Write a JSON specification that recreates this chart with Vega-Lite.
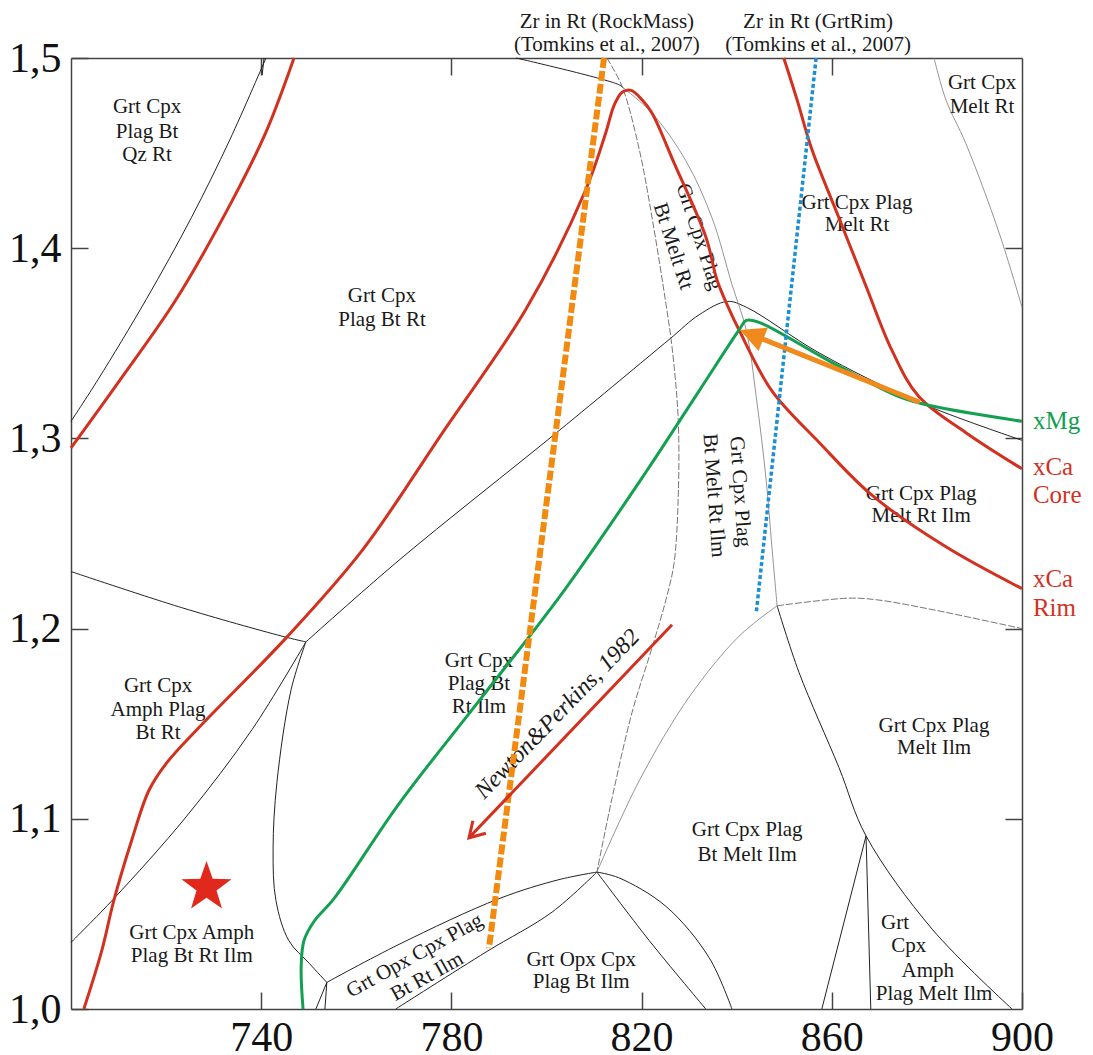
{
"$schema": "https://vega.github.io/schema/vega-lite/v6.json",
"width": 951, "height": 951,
"autosize": {"type": "pad"},
"padding": {"left": 8, "top": 10, "right": 0, "bottom": 0},
"background": "white",
"config": {"view": {"stroke": null}, "font": "Liberation Serif"},
"datasets": {
"curves": [
{"s":"rA","k":"red","o":1,"T":702.7,"P":1.0},
{"s":"rA","k":"red","o":2,"T":706.5,"P":1.031},
{"s":"rA","k":"red","o":3,"T":709.0,"P":1.057},
{"s":"rA","k":"red","o":4,"T":712.8,"P":1.089},
{"s":"rA","k":"red","o":5,"T":716.4,"P":1.115},
{"s":"rA","k":"red","o":6,"T":720.0,"P":1.129},
{"s":"rA","k":"red","o":7,"T":726.9,"P":1.148},
{"s":"rA","k":"red","o":8,"T":745.2,"P":1.195},
{"s":"rA","k":"red","o":9,"T":761.2,"P":1.241},
{"s":"rA","k":"red","o":10,"T":778.4,"P":1.304},
{"s":"rA","k":"red","o":11,"T":795.7,"P":1.368},
{"s":"rA","k":"red","o":12,"T":808.3,"P":1.431},
{"s":"rA","k":"red","o":13,"T":812.5,"P":1.461},
{"s":"rA","k":"red","o":14,"T":814.2,"P":1.475},
{"s":"rA","k":"red","o":15,"T":815.9,"P":1.482},
{"s":"rA","k":"red","o":16,"T":817.8,"P":1.483},
{"s":"rA","k":"red","o":17,"T":820.1,"P":1.478},
{"s":"rA","k":"red","o":18,"T":822.2,"P":1.471},
{"s":"rA","k":"red","o":19,"T":826.8,"P":1.445},
{"s":"rA","k":"red","o":20,"T":833.5,"P":1.406},
{"s":"rA","k":"red","o":21,"T":835.9,"P":1.383},
{"s":"rA","k":"red","o":22,"T":838.4,"P":1.368},
{"s":"rA","k":"red","o":23,"T":840.5,"P":1.357},
{"s":"rA","k":"red","o":24,"T":847.4,"P":1.325},
{"s":"rA","k":"red","o":25,"T":857.3,"P":1.298},
{"s":"rA","k":"red","o":26,"T":868.5,"P":1.270},
{"s":"rA","k":"red","o":27,"T":884.0,"P":1.243},
{"s":"rA","k":"red","o":28,"T":900.0,"P":1.221},
{"s":"rB","k":"red","o":1,"T":849.9,"P":1.5},
{"s":"rB","k":"red","o":2,"T":852.7,"P":1.478},
{"s":"rB","k":"red","o":3,"T":855.8,"P":1.452},
{"s":"rB","k":"red","o":4,"T":861.5,"P":1.416},
{"s":"rB","k":"red","o":5,"T":867.2,"P":1.380},
{"s":"rB","k":"red","o":6,"T":872.7,"P":1.346},
{"s":"rB","k":"red","o":7,"T":878.3,"P":1.322},
{"s":"rB","k":"red","o":8,"T":888.2,"P":1.303},
{"s":"rB","k":"red","o":9,"T":900.0,"P":1.284},
{"s":"rC","k":"red","o":1,"T":700.0,"P":1.295},
{"s":"rC","k":"red","o":2,"T":710.1,"P":1.330},
{"s":"rC","k":"red","o":3,"T":722.1,"P":1.373},
{"s":"rC","k":"red","o":4,"T":733.9,"P":1.425},
{"s":"rC","k":"red","o":5,"T":741.0,"P":1.461},
{"s":"rC","k":"red","o":6,"T":746.9,"P":1.5},
{"s":"gr","k":"grn","o":1,"T":748.8,"P":1.0},
{"s":"gr","k":"grn","o":2,"T":748.4,"P":1.022},
{"s":"gr","k":"grn","o":3,"T":749.0,"P":1.036},
{"s":"gr","k":"grn","o":4,"T":751.1,"P":1.046},
{"s":"gr","k":"grn","o":5,"T":755.3,"P":1.058},
{"s":"gr","k":"grn","o":6,"T":769.0,"P":1.108},
{"s":"gr","k":"grn","o":7,"T":785.8,"P":1.162},
{"s":"gr","k":"grn","o":8,"T":803.7,"P":1.220},
{"s":"gr","k":"grn","o":9,"T":821.1,"P":1.283},
{"s":"gr","k":"grn","o":10,"T":832.1,"P":1.325},
{"s":"gr","k":"grn","o":11,"T":840.5,"P":1.357},
{"s":"gr","k":"grn","o":12,"T":842.0,"P":1.362},
{"s":"gr","k":"grn","o":13,"T":844.7,"P":1.361},
{"s":"gr","k":"grn","o":14,"T":860.0,"P":1.340},
{"s":"gr","k":"grn","o":15,"T":874.1,"P":1.322},
{"s":"gr","k":"grn","o":16,"T":881.1,"P":1.317},
{"s":"gr","k":"grn","o":17,"T":900.0,"P":1.309},
{"s":"oz","k":"org","o":1,"T":812.1,"P":1.5},
{"s":"oz","k":"org","o":2,"T":787.9,"P":1.032},
{"s":"bz","k":"blu","o":1,"T":856.7,"P":1.5},
{"s":"bz","k":"blu","o":2,"T":844.1,"P":1.208},
{"s":"oa","k":"oar","o":1,"T":878.5,"P":1.319},
{"s":"oa","k":"oar","o":2,"T":844.7,"P":1.353},
{"s":"ra","k":"rar","o":1,"T":826.4,"P":1.202},
{"s":"ra","k":"rar","o":2,"T":783.7,"P":1.090},
{"s":"L1","k":"b","o":1,"T":700.0,"P":1.309},
{"s":"L1","k":"b","o":2,"T":705.7,"P":1.331},
{"s":"L1","k":"b","o":3,"T":715.8,"P":1.373},
{"s":"L1","k":"b","o":4,"T":725.3,"P":1.416},
{"s":"L1","k":"b","o":5,"T":733.4,"P":1.457},
{"s":"L1","k":"b","o":6,"T":741.0,"P":1.5},
{"s":"L1t","k":"b","o":1,"T":740.6,"P":1.5},
{"s":"L1t","k":"b","o":2,"T":740.2,"P":1.491},
{"s":"L2","k":"b","o":1,"T":793.6,"P":1.5},
{"s":"L2","k":"b","o":2,"T":815.2,"P":1.486},
{"s":"L2","k":"b","o":3,"T":816.3,"P":1.484},
{"s":"L4","k":"b","o":1,"T":700.0,"P":1.230},
{"s":"L4","k":"b","o":2,"T":723.3,"P":1.211},
{"s":"L4","k":"b","o":3,"T":744.4,"P":1.196},
{"s":"L4","k":"b","o":4,"T":749.4,"P":1.193},
{"s":"L5","k":"b","o":1,"T":749.4,"P":1.193},
{"s":"L5","k":"b","o":2,"T":769.0,"P":1.236},
{"s":"L5","k":"b","o":3,"T":802.6,"P":1.304},
{"s":"L5","k":"b","o":4,"T":825.8,"P":1.352},
{"s":"L5","k":"b","o":5,"T":832.1,"P":1.365},
{"s":"L5","k":"b","o":6,"T":838.0,"P":1.372},
{"s":"L5","k":"b","o":7,"T":842.0,"P":1.369},
{"s":"L5","k":"b","o":8,"T":857.3,"P":1.345},
{"s":"L5","k":"b","o":9,"T":878.3,"P":1.319},
{"s":"L5","k":"b","o":10,"T":900.0,"P":1.299},
{"s":"L6","k":"b","o":1,"T":749.4,"P":1.193},
{"s":"L6","k":"b","o":2,"T":738.1,"P":1.147},
{"s":"L6","k":"b","o":3,"T":724.2,"P":1.101},
{"s":"L6","k":"b","o":4,"T":709.0,"P":1.058},
{"s":"L6","k":"b","o":5,"T":700.0,"P":1.035},
{"s":"L7","k":"b","o":1,"T":749.4,"P":1.193},
{"s":"L7","k":"b","o":2,"T":746.3,"P":1.168},
{"s":"L7","k":"b","o":3,"T":743.3,"P":1.119},
{"s":"L7","k":"b","o":4,"T":742.5,"P":1.084},
{"s":"L7","k":"b","o":5,"T":743.1,"P":1.057},
{"s":"L7","k":"b","o":6,"T":745.8,"P":1.036},
{"s":"L7","k":"b","o":7,"T":750.1,"P":1.024},
{"s":"L7","k":"b","o":8,"T":753.8,"P":1.014},
{"s":"J23","k":"b","o":1,"T":753.8,"P":1.014},
{"s":"J23","k":"b","o":2,"T":769.0,"P":1.034},
{"s":"J23","k":"b","o":3,"T":790.0,"P":1.058},
{"s":"J23","k":"b","o":4,"T":802.6,"P":1.068},
{"s":"J23","k":"b","o":5,"T":810.6,"P":1.072},
{"s":"J2a","k":"b","o":1,"T":753.8,"P":1.014},
{"s":"J2a","k":"b","o":2,"T":751.5,"P":1.0},
{"s":"J2b","k":"b","o":1,"T":753.8,"P":1.014},
{"s":"J2b","k":"b","o":2,"T":753.4,"P":1.0},
{"s":"Low","k":"b","o":1,"T":768.3,"P":1.0},
{"s":"Low","k":"b","o":2,"T":787.3,"P":1.030},
{"s":"Low","k":"b","o":3,"T":801.2,"P":1.051},
{"s":"Low","k":"b","o":4,"T":810.6,"P":1.072},
{"s":"J3R","k":"b","o":1,"T":810.6,"P":1.072},
{"s":"J3R","k":"b","o":2,"T":815.2,"P":1.069},
{"s":"J3R","k":"b","o":3,"T":825.1,"P":1.054},
{"s":"J3R","k":"b","o":4,"T":834.2,"P":1.027},
{"s":"J3R","k":"b","o":5,"T":839.0,"P":1.0},
{"s":"J3D","k":"b","o":1,"T":810.6,"P":1.072},
{"s":"J3D","k":"b","o":2,"T":821.6,"P":1.036},
{"s":"J3D","k":"b","o":3,"T":833.5,"P":1.0},
{"s":"J45","k":"b","o":1,"T":848.5,"P":1.212},
{"s":"J45","k":"b","o":2,"T":853.1,"P":1.177},
{"s":"J45","k":"b","o":3,"T":861.5,"P":1.127},
{"s":"J45","k":"b","o":4,"T":867.2,"P":1.091},
{"s":"J45","k":"b","o":5,"T":881.1,"P":1.042},
{"s":"J45","k":"b","o":6,"T":897.9,"P":1.0},
{"s":"J5a","k":"b","o":1,"T":867.2,"P":1.091},
{"s":"J5a","k":"b","o":2,"T":857.9,"P":1.0},
{"s":"J5b","k":"b","o":1,"T":867.2,"P":1.091},
{"s":"J5b","k":"b","o":2,"T":868.2,"P":1.0},
{"s":"G1","k":"g","o":1,"T":816.3,"P":1.484},
{"s":"G1","k":"g","o":2,"T":822.2,"P":1.471},
{"s":"G1","k":"g","o":3,"T":829.3,"P":1.446},
{"s":"G1","k":"g","o":4,"T":834.8,"P":1.416},
{"s":"G1","k":"g","o":5,"T":839.0,"P":1.381},
{"s":"G1","k":"g","o":6,"T":842.0,"P":1.357},
{"s":"G1","k":"g","o":7,"T":844.1,"P":1.322},
{"s":"G1","k":"g","o":8,"T":846.2,"P":1.278},
{"s":"G1","k":"g","o":9,"T":847.4,"P":1.243},
{"s":"G1","k":"g","o":10,"T":848.5,"P":1.212},
{"s":"J34","k":"g","o":1,"T":810.6,"P":1.072},
{"s":"J34","k":"g","o":2,"T":819.5,"P":1.120},
{"s":"J34","k":"g","o":3,"T":830.0,"P":1.164},
{"s":"J34","k":"g","o":4,"T":840.5,"P":1.196},
{"s":"J34","k":"g","o":5,"T":848.5,"P":1.212},
{"s":"TR","k":"g","o":1,"T":881.5,"P":1.5},
{"s":"TR","k":"g","o":2,"T":884.0,"P":1.478},
{"s":"TR","k":"g","o":3,"T":888.2,"P":1.455},
{"s":"TR","k":"g","o":4,"T":895.2,"P":1.408},
{"s":"TR","k":"g","o":5,"T":900.0,"P":1.369},
{"s":"D1","k":"d","o":1,"T":812.7,"P":1.5},
{"s":"D1","k":"d","o":2,"T":815.9,"P":1.485},
{"s":"D1","k":"d","o":3,"T":819.5,"P":1.452},
{"s":"D1","k":"d","o":4,"T":822.2,"P":1.416},
{"s":"D1","k":"d","o":5,"T":825.1,"P":1.371},
{"s":"D1","k":"d","o":6,"T":826.4,"P":1.348},
{"s":"D1","k":"d","o":7,"T":827.7,"P":1.310},
{"s":"D1","k":"d","o":8,"T":827.7,"P":1.269},
{"s":"D1","k":"d","o":9,"T":826.8,"P":1.234},
{"s":"D1","k":"d","o":10,"T":825.1,"P":1.215},
{"s":"D1","k":"d","o":11,"T":822.2,"P":1.190},
{"s":"D1","k":"d","o":12,"T":818.0,"P":1.156},
{"s":"D1","k":"d","o":13,"T":813.8,"P":1.111},
{"s":"D1","k":"d","o":14,"T":810.6,"P":1.072},
{"s":"J4R","k":"d","o":1,"T":848.5,"P":1.212},
{"s":"J4R","k":"d","o":2,"T":863.6,"P":1.216},
{"s":"J4R","k":"d","o":3,"T":869.9,"P":1.215},
{"s":"J4R","k":"d","o":4,"T":881.1,"P":1.210},
{"s":"J4R","k":"d","o":5,"T":900.0,"P":1.200}
],
"pts": [
{"k":"star","T":728.5,"P":1.064},
{"k":"oh","T":840.7,"P":1.357},
{"k":"rh","T":783.7,"P":1.090}
],
"labels": [
{"k":"n","t":"Grt Cpx","T":716.0,"P":1.474},
{"k":"n","t":"Plag Bt","T":716.0,"P":1.461},
{"k":"n","t":"Qz Rt","T":716.0,"P":1.449},
{"k":"n","t":"Grt Cpx","T":765.4,"P":1.375},
{"k":"n","t":"Plag Bt Rt","T":765.4,"P":1.362},
{"k":"n","t":"Grt Cpx","T":891.6,"P":1.487},
{"k":"n","t":"Melt Rt","T":891.6,"P":1.474},
{"k":"n","t":"Grt Cpx Plag","T":865.3,"P":1.424},
{"k":"n","t":"Melt Rt","T":865.3,"P":1.412},
{"k":"n","t":"Grt Cpx Plag","T":878.8,"P":1.271},
{"k":"n","t":"Melt Rt Ilm","T":878.8,"P":1.259},
{"k":"n","t":"Grt Cpx Plag","T":881.5,"P":1.149},
{"k":"n","t":"Melt Ilm","T":881.5,"P":1.137},
{"k":"n","t":"Grt Cpx Plag","T":842.2,"P":1.094},
{"k":"n","t":"Bt Melt Ilm","T":842.2,"P":1.081},
{"k":"n","t":"Grt","T":873.3,"P":1.045},
{"k":"n","t":"Cpx","T":876.2,"P":1.033},
{"k":"n","t":"Amph","T":880.2,"P":1.020},
{"k":"n","t":"Plag Melt Ilm","T":881.5,"P":1.008},
{"k":"n","t":"Grt Cpx","T":718.3,"P":1.170},
{"k":"n","t":"Amph Plag","T":718.3,"P":1.157},
{"k":"n","t":"Bt Rt","T":718.3,"P":1.145},
{"k":"n","t":"Grt Cpx Amph","T":725.4,"P":1.040},
{"k":"n","t":"Plag Bt Rt Ilm","T":725.4,"P":1.028},
{"k":"n","t":"Grt Cpx","T":785.8,"P":1.183},
{"k":"n","t":"Plag Bt","T":785.8,"P":1.171},
{"k":"n","t":"Rt Ilm","T":785.8,"P":1.159},
{"k":"n","t":"Grt Opx Cpx","T":807.3,"P":1.026},
{"k":"n","t":"Plag Bt Ilm","T":807.3,"P":1.014},
{"k":"r72","t":"Grt Cpx Plag","T":832.1,"P":1.406},
{"k":"r72","t":"Bt Melt Rt","T":826.6,"P":1.401},
{"k":"r86","t":"Grt Cpx Plag","T":840.7,"P":1.272},
{"k":"r86","t":"Bt Melt Rt Ilm","T":835.2,"P":1.270},
{"k":"rm29","t":"Grt Opx Cpx Plag","T":772.3,"P":1.028},
{"k":"rm29","t":"Bt Rt Ilm","T":774.9,"P":1.017},
{"k":"np","t":"Newton&Perkins, 1982","T":802.3,"P":1.155},
{"k":"top","t":"Zr in Rt (RockMass)","T":812.7,"P":1.519},
{"k":"top","t":"(Tomkins et al., 2007)","T":812.7,"P":1.507},
{"k":"top","t":"Zr in Rt (GrtRim)","T":857.1,"P":1.519},
{"k":"top","t":"(Tomkins et al., 2007)","T":857.1,"P":1.507},
{"k":"mg","t":"xMg","T":902.3,"P":1.309},
{"k":"ca","t":"xCa","T":902.3,"P":1.285},
{"k":"ca","t":"Core","T":902.3,"P":1.270},
{"k":"ca","t":"xCa","T":902.3,"P":1.226},
{"k":"ca","t":"Rim","T":902.3,"P":1.211}
]
},
"encoding": {
"x": {"field": "T", "type": "quantitative", "scale": {"domain": [700, 900], "nice": false, "zero": false}, "axis": null},
"y": {"field": "P", "type": "quantitative", "scale": {"domain": [1.0, 1.5], "nice": false, "zero": false}, "axis": null}
},
"layer": [
{"data": {"name": "curves"}, "transform": [{"filter": "datum.k==='b'"}],
 "mark": {"type": "line", "color": "#222222", "strokeWidth": 1, "interpolate": "catmull-rom"},
 "encoding": {
  "x": {"field": "T", "type": "quantitative", "scale": {"domain": [700, 900], "nice": false, "zero": false},
        "axis": {"orient": "bottom", "values": [740, 780, 820, 860, 900], "tickSize": -17, "tickWidth": 1.5, "tickColor": "#444444", "domainColor": "#444444", "domainWidth": 1.5, "labelFont": "Liberation Serif", "labelFontSize": 42, "labelColor": "#111111", "labelPadding": 25, "labelFlush": false, "labelOverlap": false, "grid": false, "title": null}},
  "y": {"field": "P", "type": "quantitative", "scale": {"domain": [1.0, 1.5], "nice": false, "zero": false},
        "axis": {"orient": "left", "values": [1.0, 1.1, 1.2, 1.3, 1.4, 1.5], "labelExpr": "replace(format(datum.value, '.1f'), '.', ',')", "tickSize": -17, "tickWidth": 1.5, "tickColor": "#444444", "domainColor": "#444444", "domainWidth": 1.5, "labelFont": "Liberation Serif", "labelFontSize": 42, "labelColor": "#111111", "labelPadding": 27, "labelFlush": false, "labelOverlap": false, "grid": false, "title": null}},
  "detail": {"field": "s", "type": "nominal"}, "order": {"field": "o", "type": "quantitative"}}},
{"data": {"name": "curves"}, "transform": [{"filter": "datum.k==='g'"}],
 "mark": {"type": "line", "color": "#888888", "strokeWidth": 0.9, "interpolate": "catmull-rom"},
 "encoding": {
  "x": {"field": "T", "type": "quantitative", "scale": {"domain": [700, 900], "nice": false, "zero": false},
        "axis": {"orient": "top", "values": [740, 780, 820, 860], "labels": false, "tickSize": -17, "tickWidth": 1.5, "tickColor": "#444444", "domainColor": "#444444", "domainWidth": 1.5, "grid": false, "title": null}},
  "y": {"field": "P", "type": "quantitative", "scale": {"domain": [1.0, 1.5], "nice": false, "zero": false},
        "axis": {"orient": "right", "values": [1.1, 1.2, 1.3, 1.4], "labels": false, "tickSize": -17, "tickWidth": 1.5, "tickColor": "#444444", "domainColor": "#444444", "domainWidth": 1.5, "grid": false, "title": null}},
  "detail": {"field": "s", "type": "nominal"}, "order": {"field": "o", "type": "quantitative"}}},
{"data": {"name": "curves"}, "transform": [{"filter": "datum.k==='d'"}],
 "mark": {"type": "line", "color": "#666666", "strokeWidth": 0.9, "strokeDash": [7, 2], "interpolate": "catmull-rom"},
 "encoding": {"detail": {"field": "s", "type": "nominal"}, "order": {"field": "o", "type": "quantitative"}}},
{"data": {"name": "labels"}, "transform": [{"filter": "datum.k==='n'"}],
 "mark": {"type": "text", "font": "Liberation Serif", "fontSize": 21, "color": "#1a1a1a", "align": "center", "baseline": "middle"},
 "encoding": {"text": {"field": "t"}}},
{"data": {"name": "labels"}, "transform": [{"filter": "datum.k==='r72'"}],
 "mark": {"type": "text", "font": "Liberation Serif", "fontSize": 21, "color": "#1a1a1a", "align": "center", "baseline": "middle", "angle": 72},
 "encoding": {"text": {"field": "t"}}},
{"data": {"name": "labels"}, "transform": [{"filter": "datum.k==='r86'"}],
 "mark": {"type": "text", "font": "Liberation Serif", "fontSize": 21, "color": "#1a1a1a", "align": "center", "baseline": "middle", "angle": 86},
 "encoding": {"text": {"field": "t"}}},
{"data": {"name": "labels"}, "transform": [{"filter": "datum.k==='rm29'"}],
 "mark": {"type": "text", "font": "Liberation Serif", "fontSize": 21, "color": "#1a1a1a", "align": "center", "baseline": "middle", "angle": -29},
 "encoding": {"text": {"field": "t"}}},
{"data": {"name": "labels"}, "transform": [{"filter": "datum.k==='np'"}],
 "mark": {"type": "text", "font": "Liberation Serif", "fontSize": 24, "fontStyle": "italic", "color": "#1a1a1a", "align": "center", "baseline": "middle", "angle": -46},
 "encoding": {"text": {"field": "t"}}},
{"data": {"name": "labels"}, "transform": [{"filter": "datum.k==='top'"}],
 "mark": {"type": "text", "font": "Liberation Serif", "fontSize": 21, "color": "#1a1a1a", "align": "center", "baseline": "middle"},
 "encoding": {"text": {"field": "t"}}},
{"data": {"name": "labels"}, "transform": [{"filter": "datum.k==='mg'"}],
 "mark": {"type": "text", "font": "Liberation Serif", "fontSize": 25, "color": "#13a050", "align": "left", "baseline": "middle"},
 "encoding": {"text": {"field": "t"}}},
{"data": {"name": "labels"}, "transform": [{"filter": "datum.k==='ca'"}],
 "mark": {"type": "text", "font": "Liberation Serif", "fontSize": 25, "color": "#d2311f", "align": "left", "baseline": "middle"},
 "encoding": {"text": {"field": "t"}}},
{"data": {"name": "curves"}, "transform": [{"filter": "datum.k==='red'"}],
 "mark": {"type": "line", "color": "#d2311f", "strokeWidth": 3, "interpolate": "catmull-rom"},
 "encoding": {"detail": {"field": "s", "type": "nominal"}, "order": {"field": "o", "type": "quantitative"}}},
{"data": {"name": "curves"}, "transform": [{"filter": "datum.k==='grn'"}],
 "mark": {"type": "line", "color": "#13a050", "strokeWidth": 3, "interpolate": "catmull-rom"},
 "encoding": {"detail": {"field": "s", "type": "nominal"}, "order": {"field": "o", "type": "quantitative"}}},
{"data": {"name": "curves"}, "transform": [{"filter": "datum.k==='org'"}],
 "mark": {"type": "line", "color": "#f28a0f", "strokeWidth": 6, "strokeDash": [10, 3]},
 "encoding": {"detail": {"field": "s", "type": "nominal"}, "order": {"field": "o", "type": "quantitative"}}},
{"data": {"name": "curves"}, "transform": [{"filter": "datum.k==='blu'"}],
 "mark": {"type": "line", "color": "#1c8fd2", "strokeWidth": 3.5, "strokeDash": [4, 2.5]},
 "encoding": {"detail": {"field": "s", "type": "nominal"}, "order": {"field": "o", "type": "quantitative"}}},
{"data": {"name": "curves"}, "transform": [{"filter": "datum.k==='oar'"}],
 "mark": {"type": "line", "color": "#f08a1c", "strokeWidth": 5},
 "encoding": {"detail": {"field": "s", "type": "nominal"}, "order": {"field": "o", "type": "quantitative"}}},
{"data": {"name": "curves"}, "transform": [{"filter": "datum.k==='rar'"}],
 "mark": {"type": "line", "color": "#d2311f", "strokeWidth": 3},
 "encoding": {"detail": {"field": "s", "type": "nominal"}, "order": {"field": "o", "type": "quantitative"}}},
{"data": {"name": "pts"}, "transform": [{"filter": "datum.k==='oh'"}],
 "mark": {"type": "point", "shape": "M-1,-0.5L0,0L-1,0.5Z", "filled": true, "color": "#f08a1c", "opacity": 1, "size": 2500, "angle": 201.8}},
{"data": {"name": "pts"}, "transform": [{"filter": "datum.k==='rh'"}],
 "mark": {"type": "point", "shape": "M-1,-0.6L0,0L-1,0.6", "filled": false, "color": "#d2311f", "opacity": 1, "strokeWidth": 3, "size": 900, "angle": 133.8}},
{"data": {"name": "pts"}, "transform": [{"filter": "datum.k==='star'"}],
 "mark": {"type": "point", "shape": "M0,-1L0.235,-0.324L0.951,-0.309L0.38,0.124L0.588,0.809L0,0.4L-0.588,0.809L-0.38,0.124L-0.951,-0.309L-0.235,-0.324Z", "filled": true, "color": "#e0281c", "opacity": 1, "size": 2770}}
],
"resolve": {"axis": {"x": "independent", "y": "independent"}}
}
